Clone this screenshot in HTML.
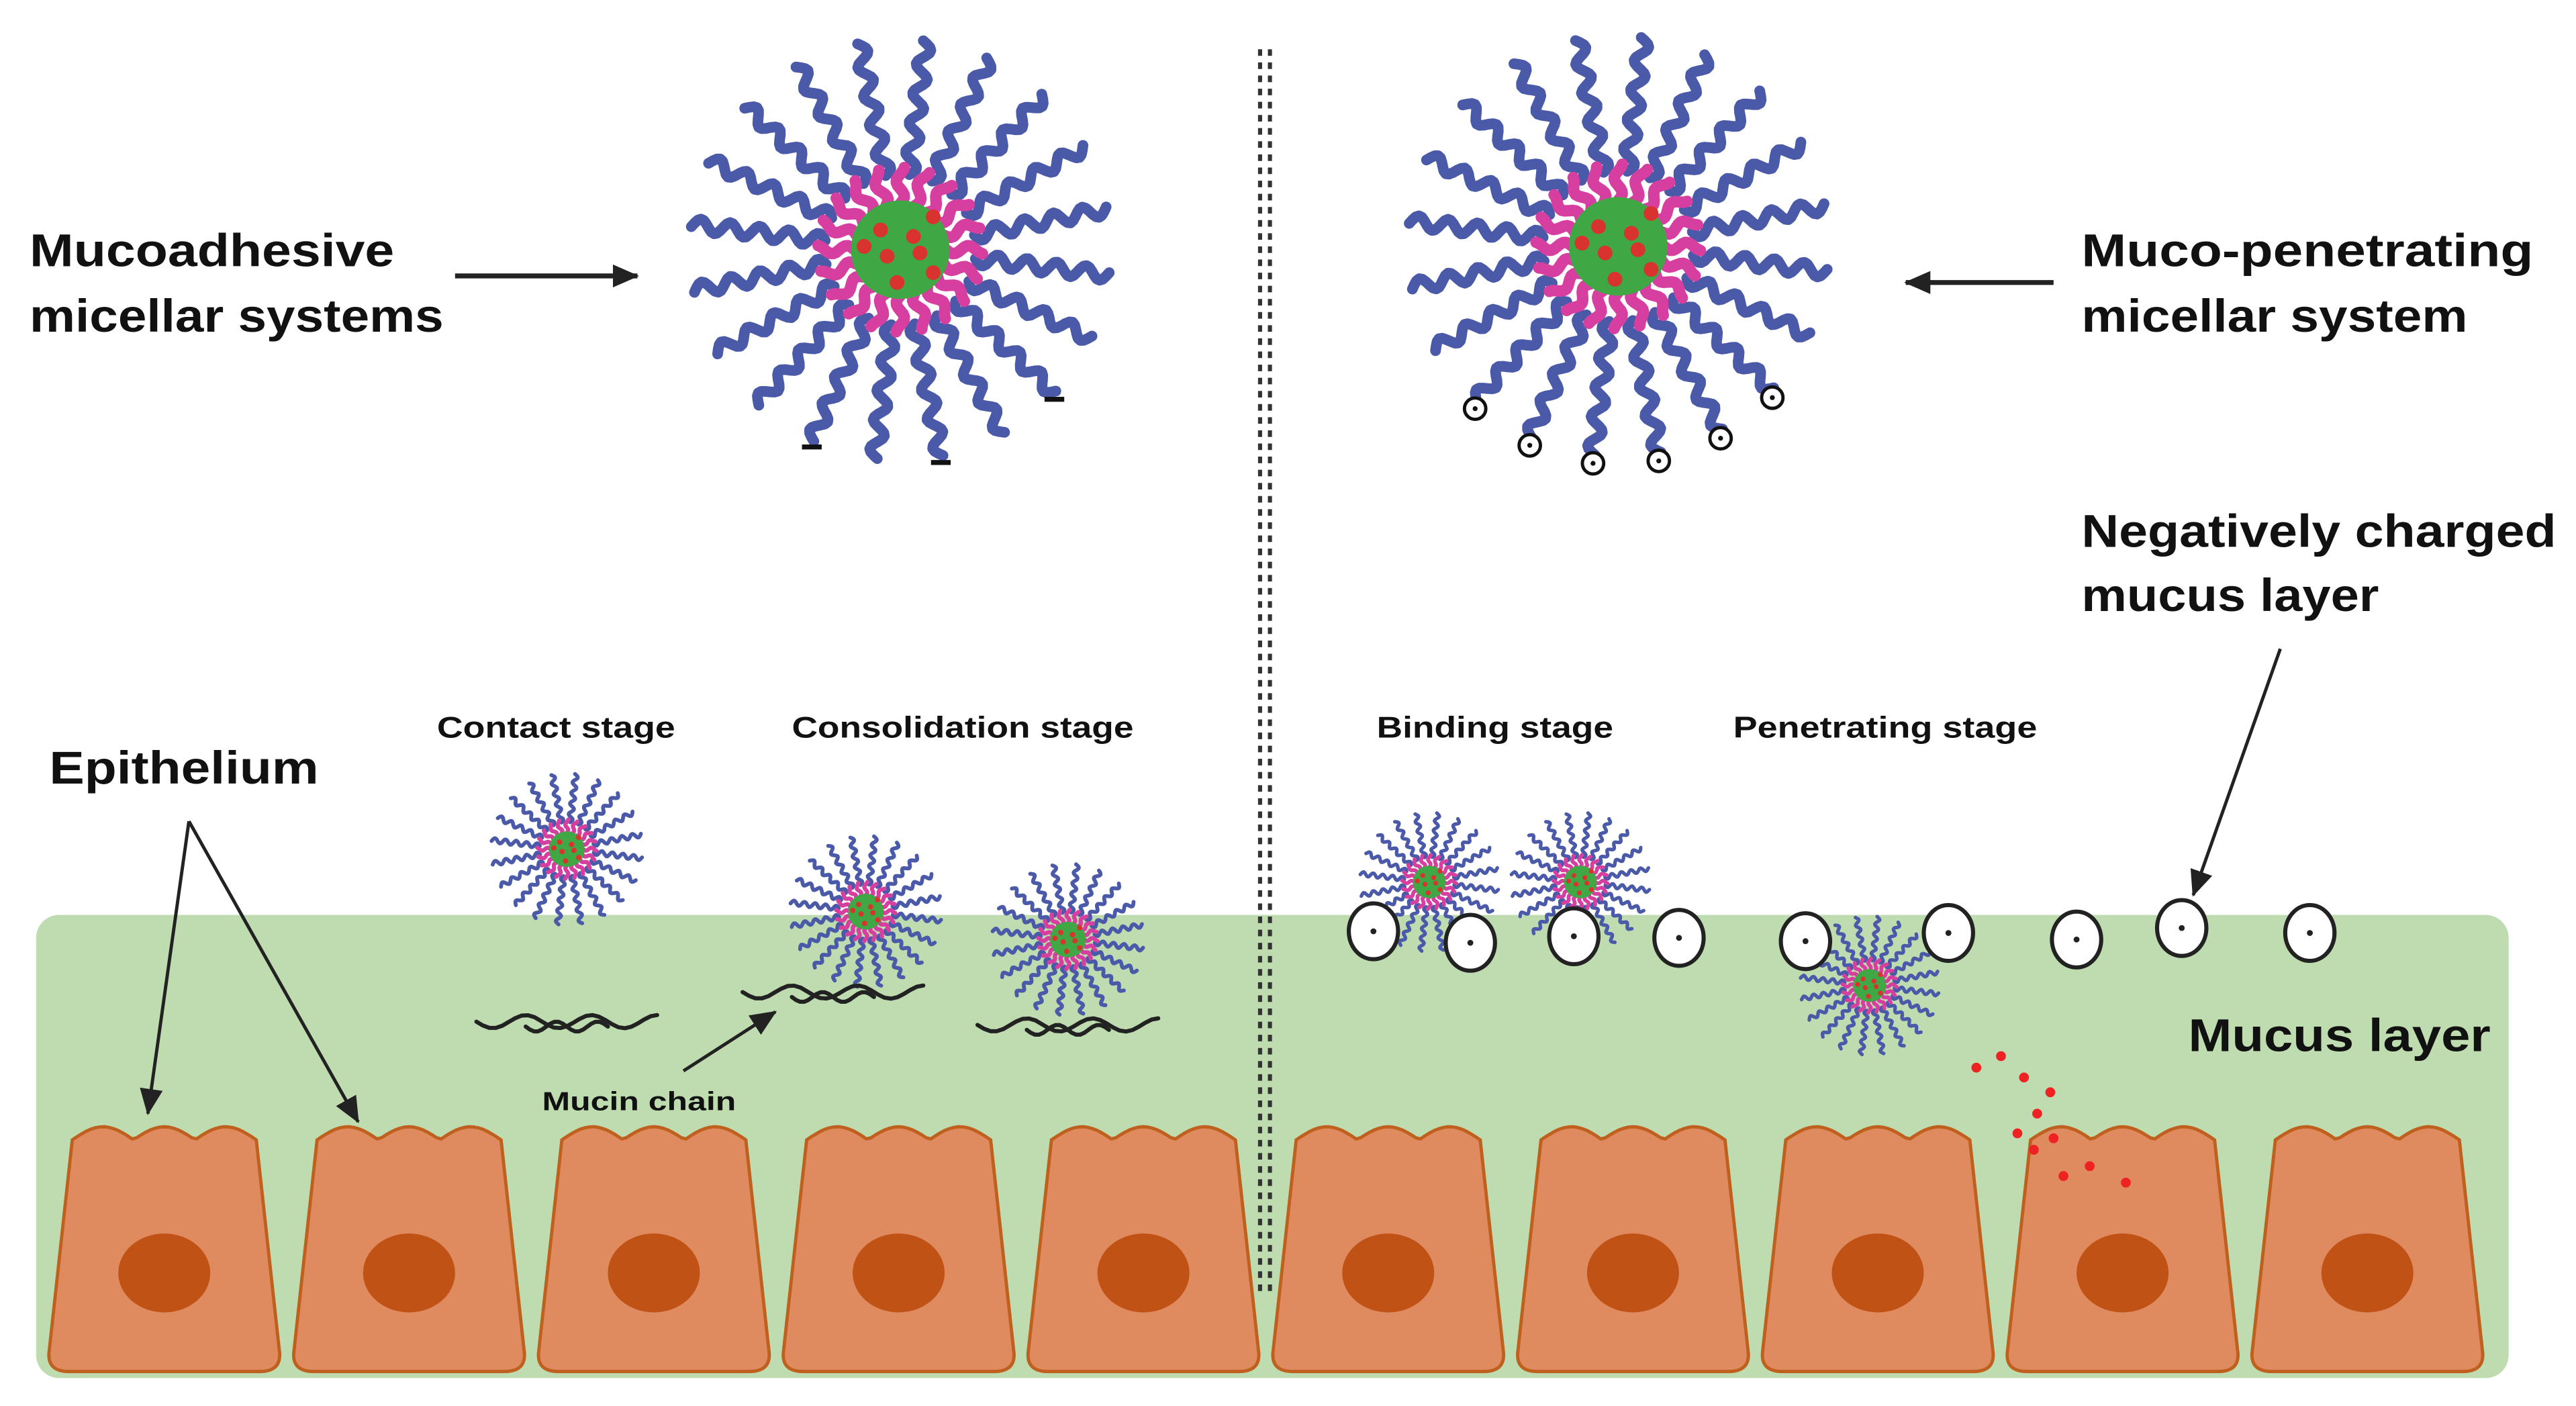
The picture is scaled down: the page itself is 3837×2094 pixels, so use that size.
<!DOCTYPE html>
<html><head><meta charset="utf-8">
<style>
html,body{margin:0;padding:0;background:#fff;}
svg{display:block;}
text{font-family:"Liberation Sans",sans-serif;fill:#111;}
</style></head>
<body>
<svg id="s" width="3837" height="2094" viewBox="0 0 1568 856" preserveAspectRatio="none" xmlns="http://www.w3.org/2000/svg">
<defs>
<marker id="ahb" markerWidth="16" markerHeight="14" refX="15" refY="7" orient="auto" markerUnits="userSpaceOnUse">
<path d="M0,0 L16,7 L0,14 z" fill="#222"/></marker>
</defs>
<rect x="22" y="557" width="1505" height="282" rx="14" fill="#bfdcb0"/>
<g id="cells"></g>
<g id="mic"></g>
<line x1="767" y1="30" x2="767" y2="790" stroke="#333" stroke-width="2.5" stroke-dasharray="4,4"/>
<line x1="773" y1="30" x2="773" y2="790" stroke="#333" stroke-width="2.5" stroke-dasharray="4,4"/>
<g font-weight="bold" lengthAdjust="spacingAndGlyphs">
<text x="18" y="162" font-size="28" textLength="222" lengthAdjust="spacingAndGlyphs">Mucoadhesive</text>
<text x="18" y="202" font-size="28" textLength="252" lengthAdjust="spacingAndGlyphs">micellar systems</text>
<text x="1267" y="162" font-size="28" textLength="275" lengthAdjust="spacingAndGlyphs">Muco-penetrating</text>
<text x="1267" y="202" font-size="28" textLength="235" lengthAdjust="spacingAndGlyphs">micellar system</text>
<text x="1267" y="333" font-size="28" textLength="289" lengthAdjust="spacingAndGlyphs">Negatively charged</text>
<text x="1267" y="372" font-size="28" textLength="181" lengthAdjust="spacingAndGlyphs">mucus layer</text>
<text x="30" y="477" font-size="28" textLength="164" lengthAdjust="spacingAndGlyphs">Epithelium</text>
<text x="1332" y="640" font-size="28" textLength="184" lengthAdjust="spacingAndGlyphs">Mucus layer</text>
<text x="266" y="449" font-size="18" textLength="145" lengthAdjust="spacingAndGlyphs">Contact stage</text>
<text x="482" y="449" font-size="18" textLength="208" lengthAdjust="spacingAndGlyphs">Consolidation stage</text>
<text x="838" y="449" font-size="18" textLength="144" lengthAdjust="spacingAndGlyphs">Binding stage</text>
<text x="1055" y="449" font-size="18" textLength="185" lengthAdjust="spacingAndGlyphs">Penetrating stage</text>
<text x="330" y="676" font-size="16" textLength="118" lengthAdjust="spacingAndGlyphs">Mucin chain</text>
</g>
<g stroke="#222" stroke-width="3" fill="none">
<line x1="277" y1="168" x2="388" y2="168" marker-end="url(#ahb)"/>
<line x1="1250" y1="172" x2="1160" y2="172" marker-end="url(#ahb)"/>
<line x1="1388" y1="395" x2="1335" y2="545" stroke-width="2" marker-end="url(#ahb)"/>
<line x1="115" y1="500" x2="90" y2="678" stroke-width="2" marker-end="url(#ahb)"/>
<line x1="115" y1="500" x2="218" y2="683" stroke-width="2" marker-end="url(#ahb)"/>
<line x1="416" y1="652" x2="472" y2="616" stroke-width="2" marker-end="url(#ahb)"/>
</g>
</svg>
<script>
var NS="http://www.w3.org/2000/svg";
function el(p,t,a){var e=document.createElementNS(NS,t);for(var k in a)e.setAttribute(k,a[k]);p.appendChild(e);return e;}
var cells=document.getElementById('cells');
[100,249,398,547,696,845,994,1143,1292,1441].forEach(function(cx){
  var d="";
  for(var i=0;i<=40;i++){var x=-56+112*i/40;var y=694-8*Math.abs(Math.sin(i/40*Math.PI*3));d+=(i?"L":"M")+(cx+x).toFixed(1)+","+y.toFixed(1)+" ";}
  d+="L"+(cx+70)+",822 Q"+(cx+72)+",835 "+(cx+58)+",835 L"+(cx-58)+",835 Q"+(cx-72)+",835 "+(cx-70)+",822 Z";
  el(cells,'path',{d:d,fill:'#e08b5f',stroke:'#c0601e','stroke-width':2});
  el(cells,'ellipse',{cx:cx,cy:775,rx:28,ry:24,fill:'#c05216'});
});
var mic=document.getElementById('mic');
function wave(g,cx,cy,ang,r0,r1,amp,wl,col,w){
  var c=Math.cos(ang),s=Math.sin(ang),d="";
  var n=Math.max(8,Math.round((r1-r0)/wl*10));
  for(var i=0;i<=n;i++){var r=r0+(r1-r0)*i/n;var o=amp*Math.sin((r-r0)/wl*2*Math.PI);
    var x=cx+c*r-s*o,y=cy+s*r+c*o;d+=(i?"L":"M")+x.toFixed(1)+","+y.toFixed(1)+" ";}
  el(g,'path',{d:d,fill:'none',stroke:col,'stroke-width':w,'stroke-linecap':'round','stroke-linejoin':'round'});
  return [cx+c*r1,cy+s*r1];
}
function micelle(cx,cy,k,ends){
  var g=el(mic,'g',{});
  var N=20;
  for(var i=0;i<N;i++){var a=i/N*2*Math.PI+0.12;
    var p=wave(g,cx,cy,a,46*k,128*k,4*k,18*k,'#4a5aa8',6.5*k);
    if(ends=='neg'&&a>0.3&&a<2.4&&i%2==0){el(g,'line',{x1:p[0]-6*k,y1:p[1]+4*k,x2:p[0]+6*k,y2:p[1]+4*k,stroke:'#111','stroke-width':3*k});}
    if(ends=='circ'&&a>0.5&&a<2.4){el(g,'circle',{cx:p[0],cy:p[1]+5*k,r:6.5*k,fill:'#fff',stroke:'#111','stroke-width':2*k});el(g,'circle',{cx:p[0],cy:p[1]+5*k,r:1.5*k,fill:'#111'});}
  }
  for(var i=0;i<20;i++){var a=i/20*2*Math.PI;wave(g,cx,cy,a,28*k,50*k,2.5*k,18*k,'#d63fa0',7*k);}
  el(g,'circle',{cx:cx,cy:cy,r:30*k,fill:'#3fa844'});
  [[-12,-12],[8,-8],[-8,4],[12,2],[-2,20],[20,-20],[-22,-2],[20,14]].forEach(function(q){
    el(g,'circle',{cx:cx+q[0]*k,cy:cy+q[1]*k,r:4.5*k,fill:'#d8332e'});});
}
micelle(548,152,1,'neg');
micelle(985,150,1,'circ');
micelle(345,517,0.36,'');
micelle(527,555,0.36,'');
micelle(650,572,0.36,'');
micelle(870,537,0.33,'');
micelle(962,537,0.33,'');
micelle(1138,600,0.33,'');
[[836,567],[895,574],[958,570],[1022,571],[1099,573],[1186,568],[1264,572],[1328,565],[1406,568]].forEach(function(p){
  el(mic,'ellipse',{cx:p[0],cy:p[1],rx:15,ry:17,fill:'#fff',stroke:'#222','stroke-width':2.5});
  el(mic,'circle',{cx:p[0],cy:p[1],r:1.8,fill:'#222'});});
[[290,622],[452,604],[595,624]].forEach(function(p){
  var g=el(mic,'g',{});
  wave(g,p[0],p[1],0,0,110,4,40,'#222',2.5);
  wave(g,p[0]+30,p[1]+3,0,0,50,3,25,'#222',2.5);
});
[[1203,650],[1218,643],[1232,656],[1248,665],[1240,678],[1228,690],[1250,693],[1238,700],[1256,716],[1272,710],[1294,720]].forEach(function(p){
  el(mic,'circle',{cx:p[0],cy:p[1],r:3,fill:'#ee2222'});});
</script>
</body></html>
